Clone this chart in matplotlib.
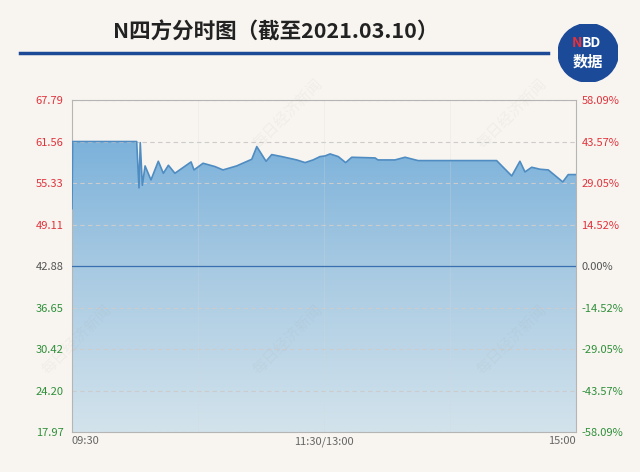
import numpy as np
import matplotlib.pyplot as plt
from matplotlib.patches import Circle
from matplotlib.colors import LinearSegmentedColormap

plt.rcParams['font.family'] = ['Noto Sans CJK SC', 'DejaVu Sans']

# 分时数据（分钟, 价格）
minutes = [0, 0.3, 30.8, 31.9, 32.5, 33.5, 34.8, 37.6, 41.1, 43.5, 45.9, 49.0,
           56.7, 58.1, 62.4, 68.1, 71.9, 78.4, 85.6, 88.0, 92.4, 95.1, 99.9,
           107.0, 111.0, 114.8, 118.1, 120.5, 122.9, 126.8, 130.3, 133.2, 144.3,
           145.7, 153.8, 158.6, 164.8, 202.2, 209.4, 213.3, 215.7, 218.9, 222.9,
           226.8, 233.7, 236.3, 240]
prices = [51.5, 61.56, 61.56, 54.6, 61.4, 55.0, 57.9, 55.8, 58.6, 56.8, 58.0, 56.8,
          58.5, 57.3, 58.3, 57.8, 57.3, 57.9, 58.9, 60.8, 58.6, 59.6, 59.3,
          58.8, 58.4, 58.8, 59.3, 59.4, 59.7, 59.3, 58.4, 59.2, 59.1,
          58.8, 58.8, 59.2, 58.7, 58.7, 56.4, 58.6, 57.0, 57.7, 57.4,
          57.3, 55.5, 56.6, 56.6]

y_ticks = [67.79, 61.56, 55.33, 49.11, 42.88, 36.65, 30.42, 24.20, 17.97]
pct_labels = ['58.09%', '43.57%', '29.05%', '14.52%', '0.00%',
              '-14.52%', '-29.05%', '-43.57%', '-58.09%']
x_ticks = [0, 120, 240]
x_labels = ['09:30', '11:30/13:00', '15:00']
base = 42.88

bg = '#f8f5f0'
red = '#e0333c'
green = '#2f8f3a'
gray = '#555555'

fig = plt.figure(figsize=(6.4, 4.72), dpi=100, facecolor=bg)
ax = fig.add_axes([0.1125, 0.0847, 0.7875, 0.7034])
ax.set_facecolor(bg)
ax.set_xlim(0, 240)
ax.set_ylim(17.97, 67.79)

# 渐变填充
cmap = LinearSegmentedColormap.from_list('g', ['#d3e3ec', '#a6c9e2', '#6eaad8'])
grad = np.linspace(0, 1, 256).reshape(-1, 1)
img = ax.imshow(grad, extent=[0, 240, 17.97, 67.79], origin='lower', cmap=cmap,
                aspect='auto', zorder=1)
poly = ax.fill_between(minutes, prices, 17.97, color='none', lw=0)
img.set_clip_path(poly.get_paths()[0], transform=ax.transData)
ax.plot(minutes, prices, color='#4f8cc2', lw=1.2, zorder=3)

# 网格
for v in y_ticks:
    if v == base:
        ax.axhline(v, color='#3a6fb0', lw=0.9, zorder=4)
    else:
        ax.axhline(v, color='#cccccc', lw=0.8, ls=(0, (4, 3)), zorder=2)
for v in [60, 120, 180]:
    ax.axvline(v, color='#d8d8d8', lw=0.5, alpha=0.35, zorder=2)

for s in ax.spines.values():
    s.set_color('#b5b5b5')
    s.set_linewidth(0.8)

ax.set_yticks(y_ticks)
ax.set_yticklabels(['%.2f' % v for v in y_ticks], fontsize=8)
for lab, v in zip(ax.get_yticklabels(), y_ticks):
    lab.set_color(red if v > base else (gray if v == base else green))
ax.tick_params(axis='y', length=0, pad=6)

ax2 = ax.twinx()
ax2.set_ylim(17.97, 67.79)
ax2.set_yticks(y_ticks)
ax2.set_yticklabels(pct_labels, fontsize=8)
for lab, v in zip(ax2.get_yticklabels(), y_ticks):
    lab.set_color(red if v > base else (gray if v == base else green))
ax2.tick_params(axis='y', length=0, pad=4)
for s in ax2.spines.values():
    s.set_visible(False)

ax.set_xticks(x_ticks)
ax.set_xticklabels(x_labels, fontsize=8, color='#666666')
ax.tick_params(axis='x', length=0, pad=3)
xl = ax.get_xticklabels()
xl[0].set_ha('left')
xl[2].set_ha('right')

# 水印
for (wx, wy) in [(0.45, 0.76), (0.80, 0.76), (0.45, 0.28), (0.80, 0.28), (0.12, 0.28)]:
    fig.text(wx, wy, '每日经济新闻', rotation=45, fontsize=11, color='#999999',
             alpha=0.08, ha='center', va='center', zorder=0)

# 标题
fig.text(0.43, 0.932, 'N四方分时图（截至2021.03.10）', fontsize=15.5, fontweight='bold',
         color='#222222', ha='center', va='center')
fig.add_artist(plt.Line2D([0.032, 0.857], [0.888, 0.888], color='#1d4a96', lw=2.5))

# 标志
logo = fig.add_axes([0.872, 0.826, 0.094, 0.124])
logo.set_xlim(-1, 1)
logo.set_ylim(-1, 1)
logo.axis('off')
logo.add_patch(Circle((0, 0), 1, color='#1b4a99'))
logo.text(-0.2, 0.32, 'N', color='#e8303a', fontsize=10, fontweight='bold', ha='right', va='center')
logo.text(-0.22, 0.32, 'BD', color='white', fontsize=10, fontweight='bold', ha='left', va='center')
logo.text(0, -0.3, '数据', color='white', fontsize=11, fontweight='bold', ha='center', va='center')

fig.savefig('out.png', dpi=100, facecolor=bg)
